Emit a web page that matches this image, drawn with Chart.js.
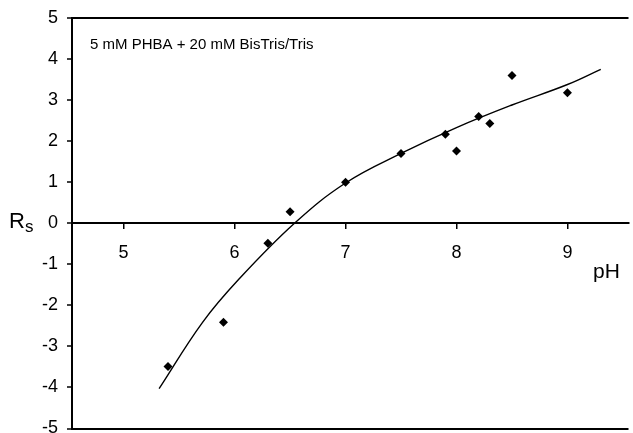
<!DOCTYPE html>
<html>
<head>
<meta charset="utf-8">
<script src="https://cdn.jsdelivr.net/npm/chart.js@4"></script>
<style>
html,body{margin:0;padding:0;background:#fff;overflow:hidden;}
#wrap{width:633px;height:433px;}
</style>
</head>
<body>
<div id="wrap"><canvas id="rsChart" width="633" height="433"></canvas></div>
<script>
// ================= Data =================
const phMeasured=[5.4,5.9,6.3,6.5,7.0,7.5,7.9,8.0,8.2,8.3,8.5,9.0];
const rsMeasured=[-3.49,-2.41,-0.49,0.28,1.0,1.70,2.17,1.76,2.60,2.43,3.60,3.18];
// trend curve
const phCurve=[5.32,5.71,6.04,6.54,7.0,7.5,8.0,8.5,9.0,9.3];
const rsCurve=[-4.03,-2.42,-1.36,0.0,0.98,1.70,2.33,2.88,3.38,3.75];
const xTicks=[5,6,7,8,9];
const yTicks=[-5,-4,-3,-2,-1,0,1,2,3,4,5];
const noteText='5 mM PHBA + 20 mM BisTris/Tris';

const toPts=(xs,ys)=>xs.map((x,i)=>({x:x,y:ys[i]}));
const FONT='Arial, "Liberation Sans", sans-serif';

// ================= Labels plugin =================
const labelsPlugin={
    id:'labels',
    afterDraw(chart){
        const ctx=chart.ctx; const a=chart.chartArea; const y=chart.scales.y;
        ctx.save(); ctx.fillStyle='#000';
        ctx.textBaseline='alphabetic'; ctx.textAlign='left';
        ctx.font='15px '+FONT;
        ctx.fillText(noteText,a.left+18,49);
        const y0=y.getPixelForValue(0);
        ctx.font='22px '+FONT;
        ctx.fillText('R',9,y0+5);
        ctx.font='17px '+FONT;
        ctx.fillText('s',25,y0+9);
        ctx.font='21px '+FONT;
        ctx.fillText('pH',593,278);
        ctx.restore();
    }
};

// ================= Chart =================
new Chart(document.getElementById('rsChart').getContext('2d'),{
    type:'scatter',
    data:{datasets:[
        {data:toPts(phMeasured,rsMeasured),pointStyle:'rectRot',pointRadius:4.5,backgroundColor:'#000',borderColor:'#000',borderWidth:0,order:1},
        {type:'line',data:toPts(phCurve,rsCurve),showLine:true,borderColor:'#000',borderWidth:1.4,pointRadius:0,fill:false,tension:0.4,order:2}
    ]},
    options:{
        responsive:false,animation:false,
        layout:{padding:{top:18,left:0,right:0,bottom:0}},
        plugins:{legend:{display:false},tooltip:{enabled:false}},
        scales:{
            x:{type:'linear',min:4.535,max:9.55,position:{y:0},
                afterBuildTicks:s=>{s.ticks=xTicks.map(v=>({value:v}));},
                border:{display:true,color:'#000',width:2},
                grid:{display:true,drawOnChartArea:false,drawTicks:true,tickLength:5,color:'#000',lineWidth:1.5},
                ticks:{color:'#000',font:{family:FONT,size:18},padding:14,maxRotation:0}
            },
            y:{type:'linear',min:-5,max:5,
                afterBuildTicks:s=>{s.ticks=yTicks.map(v=>({value:v}));},
                afterFit:s=>{s.width=72;s.paddingTop=0;s.paddingBottom=0;},
                border:{display:true,color:'#000',width:2},
                grid:{display:true,drawOnChartArea:true,drawTicks:true,tickLength:5,
                    color:c=>(c.tick&&Math.abs(c.tick.value)===5)?'#000':'rgba(0,0,0,0)',
                    lineWidth:2,tickColor:'#000',tickWidth:1.5},
                ticks:{color:'#000',font:{family:FONT,size:18},padding:9}
            }
        }
    },
    plugins:[labelsPlugin]
});
</script>
</body>
</html>
